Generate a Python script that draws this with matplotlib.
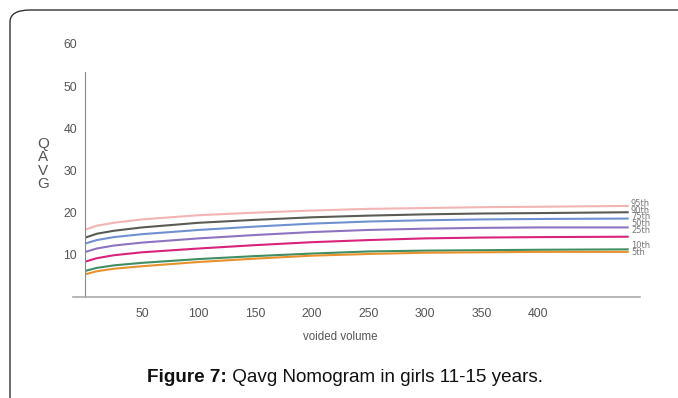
import matplotlib
matplotlib.use('Agg')
import numpy as np
import matplotlib.pyplot as plt
from matplotlib.patches import FancyBboxPatch
from matplotlib.transforms import offset_copy

plt.rcParams['font.family'] = ['Liberation Sans', 'DejaVu Sans']

# Data
volume = [0, 10, 25, 50, 100, 150, 200, 250, 300, 350, 400, 480]
p95 = [16.0, 16.9, 17.6, 18.4, 19.4, 20.0, 20.5, 20.9, 21.1, 21.3, 21.4, 21.6]
p90 = [14.1, 15.0, 15.7, 16.5, 17.6, 18.3, 18.9, 19.3, 19.6, 19.8, 19.9, 20.1]
p75 = [12.7, 13.5, 14.2, 14.9, 15.9, 16.7, 17.4, 17.9, 18.2, 18.4, 18.5, 18.6]
p50 = [10.7, 11.5, 12.2, 12.9, 13.9, 14.7, 15.4, 15.9, 16.2, 16.4, 16.5, 16.5]
p25 = [8.4, 9.2, 9.9, 10.6, 11.5, 12.3, 13.0, 13.5, 13.9, 14.1, 14.2, 14.3]
p10 = [6.2, 6.9, 7.5, 8.1, 9.0, 9.7, 10.3, 10.8, 11.0, 11.1, 11.2, 11.3]
p5 = [5.4, 6.1, 6.7, 7.3, 8.3, 9.1, 9.8, 10.2, 10.5, 10.6, 10.7, 10.7]

labels = ['95th', '90th', '75th', '50th', '25th', '10th', '5th']
series = [p95, p90, p75, p50, p25, p10, p5]
colors = ['#f2b5b5', '#5b5b55', '#7090d0', '#8c74c0', '#d8237c', '#3f8f62', '#e8922e']
label_y = [22.1, 20.6, 19.1, 17.4, 15.8, 12.2, 10.6]

xticks = [50, 100, 150, 200, 250, 300, 350, 400]
yticks = [10, 20, 30, 40, 50, 60]

W, H = 678, 398
fig = plt.figure(figsize=(W / 100, H / 100), dpi=100)

# rounded frame around the figure (runs off right/bottom edge)
frame = FancyBboxPatch((10 / W, -0.1), 1.2, (H - 10) / H + 0.1,
                       boxstyle='round,pad=0,rounding_size=0.03',
                       transform=fig.transFigure, fill=False,
                       edgecolor='#333333', linewidth=1.0, clip_on=False)
fig.patches.append(frame)

ax = fig.add_axes([73 / W, (H - 297) / H, (640 - 73) / W, (297 - 44) / H])
for lab, vals, c in zip(labels, series, colors):
    ax.plot(volume, vals, color=c, linewidth=1.5, solid_capstyle='butt')

for lab, ly in zip(labels, label_y):
    ax.text(482, ly, lab, fontsize=6, color='#777777', va='center', ha='left',
            family='DejaVu Sans')

ax.set_xlim(-11, 490)
ax.set_ylim(0, 60)
ax.set_xticks(xticks)
ax.set_yticks(yticks)
ax.tick_params(axis='both', length=0, labelsize=8.8, colors='#555555')
ax.tick_params(axis='x', pad=8)
ax.tick_params(axis='y', pad=6)

ax.spines['top'].set_visible(False)
ax.spines['right'].set_visible(False)
ax.spines['left'].set_position(('data', 0))
ax.spines['left'].set_bounds(0, 53.3)
ax.spines['left'].set_color('#888888')
ax.spines['bottom'].set_color('#aaaaaa')
ax.spines['bottom'].set_linewidth(1.2)

ax.text((340 - 73) / (640 - 73), -0.16, 'voided volume', transform=ax.transAxes,
        ha='center', va='center', fontsize=8.3, color='#555555')
ax.text(-0.053, 0.526, 'Q\nA\nV\nG', transform=ax.transAxes, ha='center',
        va='center', fontsize=11, color='#555555', linespacing=0.95)

# caption: bold lead-in followed by regular text
cap_bold = 'Figure 7:'
cap_rest = ' Qavg Nomogram in girls 11-15 years.'
t1 = fig.text(147 / W, 1 - 378 / H, cap_bold, ha='left', va='center',
              fontsize=13.6, fontweight='bold', color='#111111')
renderer = fig.canvas.get_renderer()
w1 = t1.get_window_extent(renderer).width
fig.text(147 / W, 1 - 378 / H, cap_rest, ha='left', va='center', fontsize=13.6,
         color='#111111',
         transform=offset_copy(fig.transFigure, fig=fig, x=w1 * 72 / fig.dpi, units='points'))

plt.savefig('out.png', dpi=100)
